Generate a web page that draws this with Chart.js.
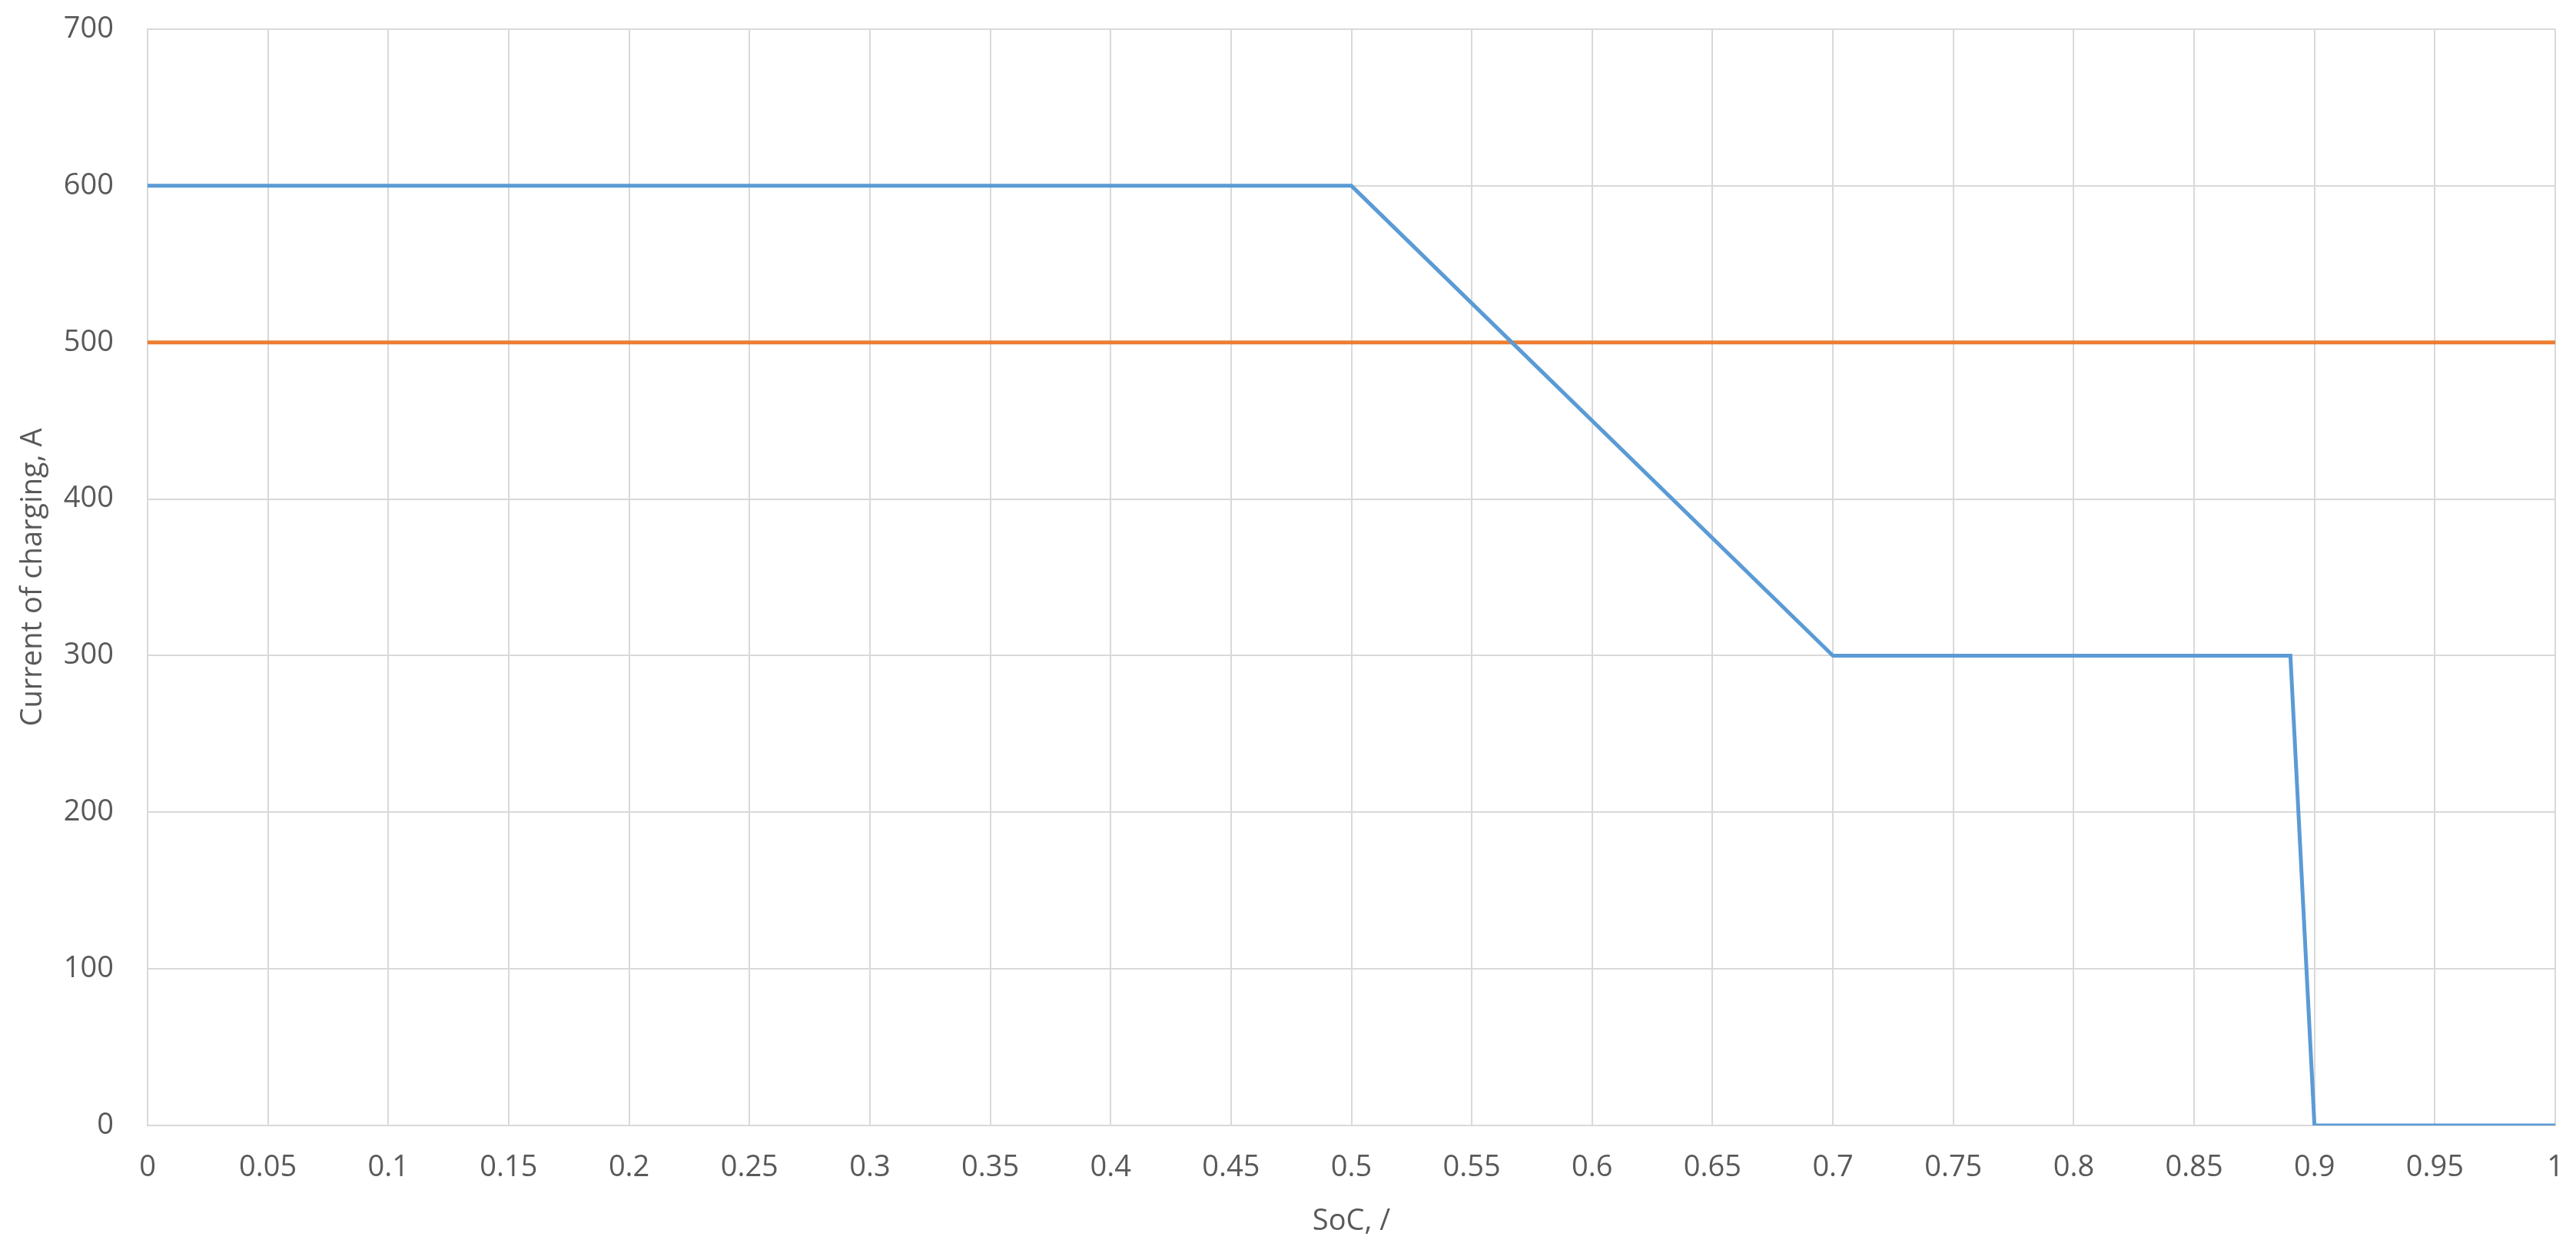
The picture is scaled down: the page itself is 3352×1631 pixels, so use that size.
<!DOCTYPE html>
<html>
<head>
<meta charset="utf-8">
<script src="https://cdn.jsdelivr.net/npm/chart.js@4/dist/chart.umd.min.js"></script>
<style>
  body { margin: 0; background: #fff; }
  canvas { display: block; }
</style>
</head>
<body>
<canvas id="chart" width="3352" height="1631"></canvas>
<script>
// charging current profile vs state of charge
const socPoints = [0, 0.5, 0.7, 0.89, 0.9, 1];
const currentPoints = [600, 600, 300, 300, 0, 0];
// constant limit line
const limitSoc = [0, 1];
const limitCurrent = [500, 500];

const xTicks = [0, 0.05, 0.1, 0.15, 0.2, 0.25, 0.3, 0.35, 0.4, 0.45, 0.5,
  0.55, 0.6, 0.65, 0.7, 0.75, 0.8, 0.85, 0.9, 0.95, 1];
const yTicks = [0, 100, 200, 300, 400, 500, 600, 700];

const textColor = '#595959';
const gridColor = '#d9d9d9';
const font = { family: "'Open Sans', sans-serif", size: 38 };

const toXY = (xs, ys) => xs.map((x, i) => ({ x: x, y: ys[i] }));

new Chart(document.getElementById('chart').getContext('2d'), {
  type: 'line',
  data: {
    datasets: [
      {
        label: 'Charging current',
        data: toXY(socPoints, currentPoints),
        borderColor: '#5b9bd5',
        borderWidth: 5,
        pointRadius: 0,
        tension: 0,
      },
      {
        label: 'Limit',
        data: toXY(limitSoc, limitCurrent),
        borderColor: '#ed7d31',
        borderWidth: 5,
        pointRadius: 0,
        tension: 0,
      }
    ]
  },
  options: {
    responsive: false,
    animation: false,
    layout: { padding: { top: 38, right: 27, left: 0, bottom: 0 } },
    plugins: {
      legend: { display: false },
      tooltip: { enabled: false }
    },
    scales: {
      x: {
        type: 'linear',
        min: 0,
        max: 1,
        afterBuildTicks: (scale) => { scale.ticks = xTicks.map(v => ({ value: v })); },
        afterFit: (scale) => {
          scale.height = 166;
          scale.paddingLeft = 0;
          scale.paddingRight = 0;
        },
        grid: { color: gridColor, lineWidth: 2, drawTicks: false },
        border: { color: gridColor, width: 2 },
        ticks: {
          color: textColor,
          font: font,
          padding: 32,
          maxRotation: 0,
          autoSkip: false,
          callback: (v) => String(parseFloat(Number(v).toFixed(2)))
        },
        title: {
          display: true,
          text: 'SoC, /',
          color: textColor,
          font: font,
          padding: { top: 0, bottom: 18 }
        }
      },
      y: {
        min: 0,
        max: 700,
        afterBuildTicks: (scale) => { scale.ticks = yTicks.map(v => ({ value: v })); },
        afterFit: (scale) => {
          scale.width = 192;
          scale.paddingTop = 0;
          scale.paddingBottom = 0;
        },
        grid: { color: gridColor, lineWidth: 2, drawTicks: false },
        border: { color: gridColor, width: 2 },
        ticks: {
          color: textColor,
          font: font,
          padding: 44
        },
        title: {
          display: true,
          text: 'Current of charging, A',
          color: textColor,
          font: font,
          padding: { top: 20, bottom: 0 }
        }
      }
    }
  }
});
</script>
</body>
</html>
